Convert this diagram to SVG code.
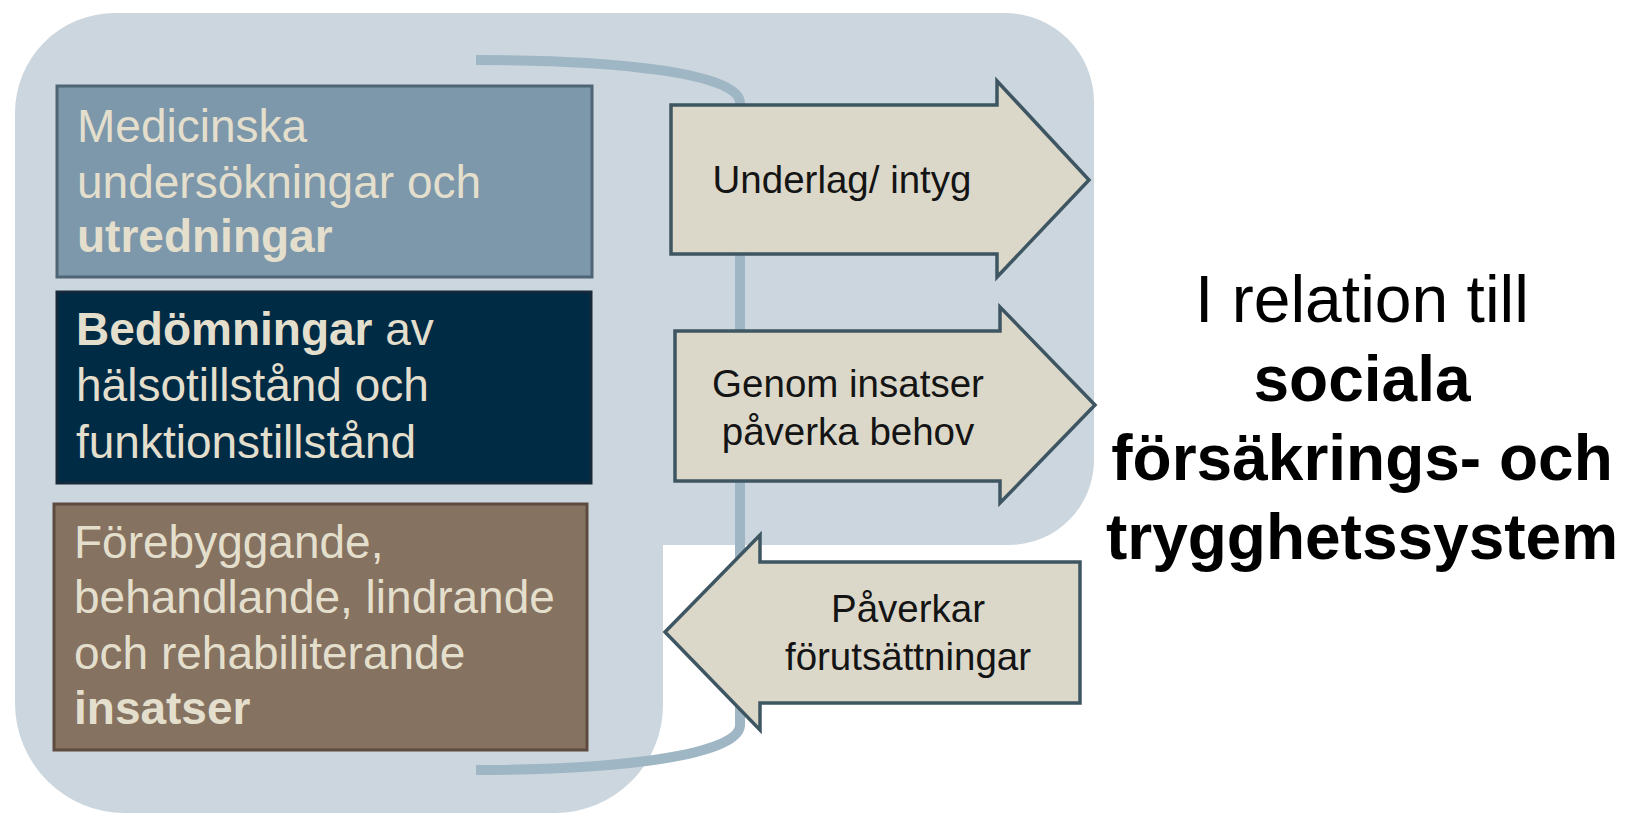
<svg xmlns="http://www.w3.org/2000/svg" width="1639" height="814" viewBox="0 0 1639 814">
<style>
.bt{font-family:"Liberation Sans",Arial,sans-serif;font-size:46px;fill:#e4dfcd}
.at{font-family:"Liberation Sans",Arial,sans-serif;font-size:38.5px;fill:#141414;text-anchor:middle}
.big{font-family:"Liberation Sans",Arial,sans-serif;font-size:66px;fill:#000;text-anchor:middle}
.bigb{font-family:"Liberation Sans",Arial,sans-serif;font-size:64px;font-weight:bold;fill:#000;text-anchor:middle}
.b{font-weight:bold}
.arr{fill:#dbd8ca;stroke:#3e5562;stroke-width:3.5;stroke-linejoin:miter}
.box{stroke-width:3}
</style>
<rect width="1639" height="814" fill="#ffffff"/>
<g id="background">
<path d="M115,13 H1005 A89,89 0 0 1 1094,102 V460 A85,85 0 0 1 1009,545 H663 V705 A108,108 0 0 1 555,813 H125 A110,110 0 0 1 15,703 V113 A100,100 0 0 1 115,13 Z" fill="#cbd6de"/>
</g>
<g id="connectors">
<path d="M476,60 C610,60 740,72 740,103 L740,725 C740,755 620,770 476,770" fill="none" stroke="#9fb6c4" stroke-width="10"/>
</g>
<g id="box-medicinska">
<rect class="box" x="57" y="86" width="535" height="191" fill="#7d98aa" stroke="#4f6575"/>
<text class="bt" x="77" y="142">Medicinska</text>
<text class="bt" x="77" y="198">undersökningar och</text>
<text class="bt b" x="77" y="252">utredningar</text>
</g>
<g id="box-bedomningar">
<rect class="box" x="57" y="292" width="534" height="191" fill="#002b45" stroke="#15293a"/>
<text class="bt" x="76" y="345"><tspan class="b">Bedömningar</tspan> av</text>
<text class="bt" x="76" y="401">hälsotillstånd och</text>
<text class="bt" x="76" y="458">funktionstillstånd</text>
</g>
<g id="box-insatser">
<rect class="box" x="54" y="504" width="533" height="246" fill="#857260" stroke="#5c4b3e"/>
<text class="bt" x="74" y="558">Förebyggande,</text>
<text class="bt" x="74" y="613">behandlande, lindrande</text>
<text class="bt" x="74" y="669">och rehabiliterande</text>
<text class="bt b" x="74" y="724">insatser</text>
</g>
<g id="arrow-underlag">
<path class="arr" d="M671,105 H997 V81 L1089,180 L997,277 V254 H671 Z"/>
<text class="at" x="842" y="193">Underlag/ intyg</text>
</g>
<g id="arrow-genom">
<path class="arr" d="M675,331 H1000 V307 L1095,405 L1000,503 V481 H675 Z"/>
<text class="at" x="848" y="397">Genom insatser</text>
<text class="at" x="848" y="445">påverka behov</text>
</g>
<g id="arrow-paverkar">
<path class="arr" d="M1080,562 H760 V535 L665,632 L760,730 V703 H1080 Z"/>
<text class="at" x="908" y="622">Påverkar</text>
<text class="at" x="908" y="670">förutsättningar</text>
</g>
<g id="label-relation">
<text class="big" x="1362" y="322">I relation till</text>
<text class="bigb" x="1362" y="401">sociala</text>
<text class="bigb" x="1362" y="480">försäkrings- och</text>
<text class="bigb" x="1362" y="559">trygghetssystem</text>
</g>
</svg>
